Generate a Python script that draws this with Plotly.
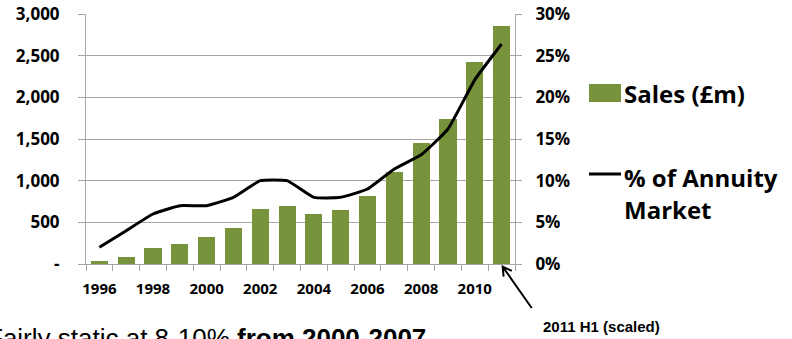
import plotly.graph_objects as go

years = list(range(1996, 2012))
sales = [36, 88, 192, 244, 324, 428, 660, 696, 596, 648, 816, 1104, 1452, 1740, 2428, 2860]
share = [0.02, 0.04, 0.06, 0.07, 0.07, 0.08, 0.10, 0.10, 0.08, 0.08, 0.09, 0.114, 0.131, 0.162, 0.221, 0.264]
left_ticks = [0, 500, 1000, 1500, 2000, 2500, 3000]
left_labels = ["-", "500", "1,000", "1,500", "2,000", "2,500", "3,000"]
x_labels = [1996, 1998, 2000, 2002, 2004, 2006, 2008, 2010]

W, H = 792, 339
L, R, T, B = 86, 515, 14, 264


def px(x):
    return (x - L) / (R - L)


def py(y):
    return (B - y) / (B - T)


GREEN = "#77933C"
GRID = "#A6A6A6"
FAM = "Open Sans"
TICKFONT = dict(family=FAM, size=17, color="#000000", weight="bold")

fig = go.Figure()
fig.add_trace(go.Bar(x=years, y=sales, name="Sales (£m)", marker=dict(color=GREEN, line=dict(width=0)),
                     width=0.64, yaxis="y"))
fig.add_trace(go.Scatter(x=years, y=share, name="% of Annuity Market", mode="lines",
                         line=dict(color="#000000", width=3, shape="spline", smoothing=0.4), yaxis="y2"))

fig.update_layout(
    width=W, height=H,
    margin=dict(l=L, r=W - R, t=T, b=H - B, pad=0, autoexpand=False),
    paper_bgcolor="white", plot_bgcolor="white",
    showlegend=False,
    bargap=0,
    xaxis=dict(range=[years[0] - 0.5, years[-1] + 0.5], tickmode="array", tickvals=x_labels,
               ticktext=[str(v) for v in x_labels], ticks="", showgrid=False, zeroline=False,
               showline=True, linecolor=GRID, linewidth=1, automargin=False,
               tickfont=dict(family=FAM, size=15, color="#000000", weight="bold"), ticklabelstandoff=11,
               minor=dict(ticks="outside", tick0=years[0] - 0.5, dtick=1, ticklen=6, tickcolor=GRID,
                          tickwidth=1, showgrid=False)),
    yaxis=dict(range=[0, 3000], tickmode="array", tickvals=left_ticks, ticktext=left_labels,
               showgrid=True, gridcolor=GRID, gridwidth=1, zeroline=False, automargin=False,
               showline=True, linecolor=GRID, linewidth=1, ticks="outside", ticklen=7, tickcolor=GRID,
               tickfont=TICKFONT, ticklabelstandoff=15),
    yaxis2=dict(range=[0, 0.30], overlaying="y", side="right", tickmode="linear", tick0=0, dtick=0.05,
                tickformat=".0%", showgrid=False, zeroline=False, automargin=False,
                showline=True, linecolor=GRID, linewidth=1, ticks="outside", ticklen=6, tickcolor=GRID,
                tickfont=TICKFONT, ticklabelstandoff=10),
)

# custom legend
fig.add_shape(type="rect", xref="paper", yref="paper", x0=px(589), x1=px(621), y0=py(102), y1=py(84),
              fillcolor=GREEN, line=dict(width=0))
fig.add_shape(type="line", xref="paper", yref="paper", x0=px(589), x1=px(621), y0=py(174), y1=py(174),
              line=dict(color="#000000", width=3))
LEGFONT = dict(family=FAM, size=24, color="#000000", weight="bold")
fig.add_annotation(xref="paper", yref="paper", x=px(622), y=py(94), xanchor="left", yanchor="middle",
                   text="Sales (£m)", showarrow=False, font=LEGFONT)
fig.add_annotation(xref="paper", yref="paper", x=px(622), y=py(177), xanchor="left", yanchor="middle",
                   text="% of Annuity", showarrow=False, font=LEGFONT)
fig.add_annotation(xref="paper", yref="paper", x=px(622), y=py(209), xanchor="left", yanchor="middle",
                   text="Market", showarrow=False, font=LEGFONT)

# arrow to 2011 bar
tail = (531.7, 308)
head = (502.7, 266.7)
arm1 = (503.6, 276.6)
arm2 = (511.8, 270.9)
path = (f"M {px(tail[0])} {py(tail[1])} L {px(head[0])} {py(head[1])} "
        f"M {px(arm1[0])} {py(arm1[1])} L {px(head[0])} {py(head[1])} L {px(arm2[0])} {py(arm2[1])}")
fig.add_shape(type="path", xref="paper", yref="paper", path=path, line=dict(color="#000000", width=2))
fig.add_annotation(xref="paper", yref="paper", x=px(541), y=py(326), xanchor="left", yanchor="middle",
                   text="<b>2011 H1 (scaled)</b>", showarrow=False,
                   font=dict(family="Liberation Sans", size=15, color="#000000"))

# bottom caption (partly outside the picture, as in the reference)
fig.add_annotation(xref="paper", yref="paper", x=px(-15), y=py(338), xanchor="left", yanchor="middle",
                   text="Fairly static at 8-10% <b>from 2000-2007</b>", showarrow=False,
                   font=dict(family="Liberation Sans", size=26, color="#000000"))

fig.write_html("out.html")
